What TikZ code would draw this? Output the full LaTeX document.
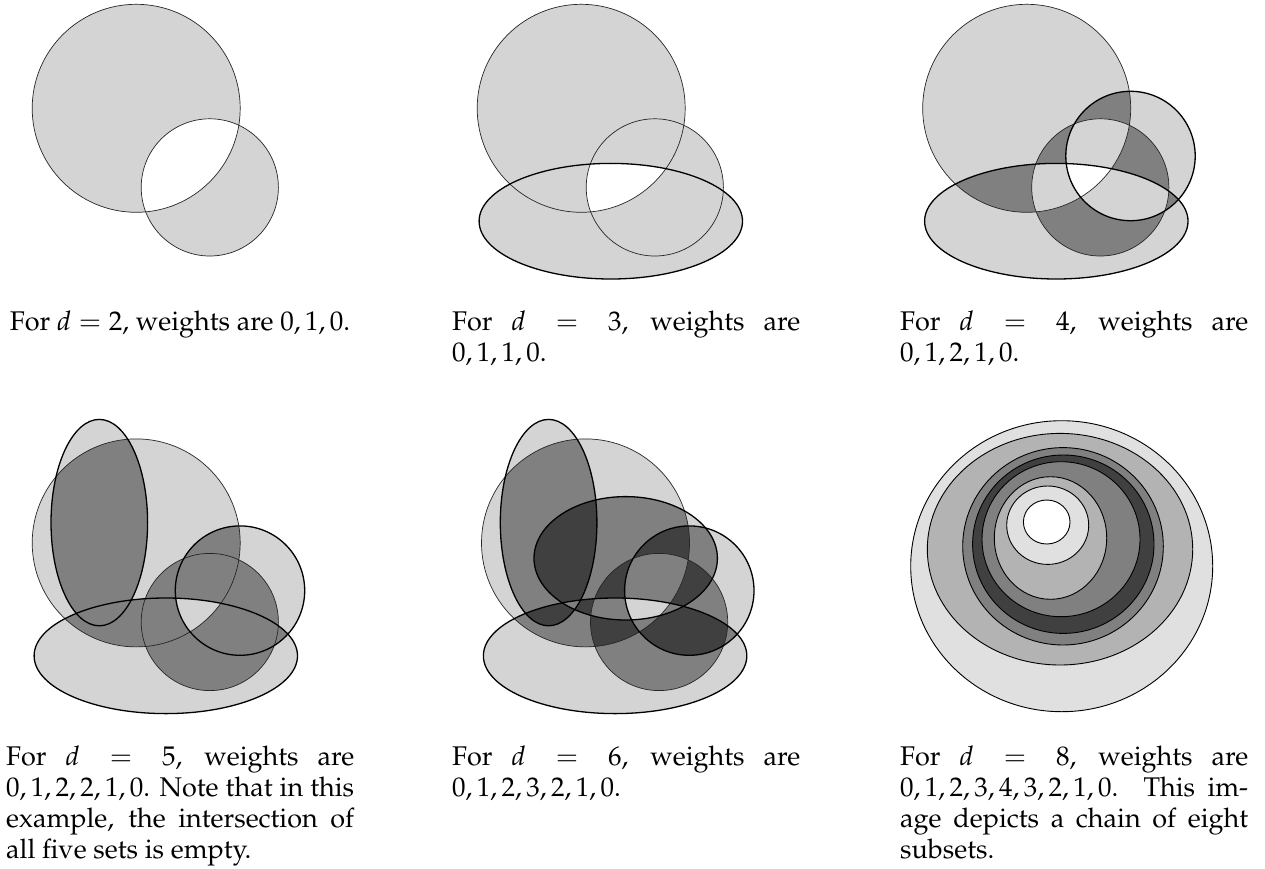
\documentclass[tikz,border=0pt]{standalone}
\usepackage[T1]{fontenc}
\usepackage{mathpazo}
\colorlet{w0}{white}
\definecolor{w1}{HTML}{D4D4D4}
\definecolor{w2}{HTML}{808080}
\definecolor{w3}{HTML}{404040}
\colorlet{v0}{white}
\definecolor{v1}{HTML}{E0E0E0}
\definecolor{v2}{HTML}{B3B3B3}
\definecolor{v3}{HTML}{808080}
\definecolor{v4}{HTML}{404040}
% shapes in panel-local pixel coordinates
\def\shA{(136.2,108.3) circle [radius=104]}
\def\shB{(209.8,187.4) circle [radius=68.6]}
\def\shC{(165.8,221.2) ellipse [x radius=131.7, y radius=57.8]}
\def\shD{(240,156) circle [radius=64.7]}
\def\shE{(99.3,88) ellipse [x radius=48.3, y radius=103.2]}
\def\shF{(176.4,123.7) ellipse [x radius=91.7, y radius=61.7]}
% #1 shape list, #2 largest mask, #3 count/weight list
\newcommand\vennfill[3]{%
  \foreach \k/\w in {#3} {%
    \foreach \m in {1,...,#2} {%
      \pgfmathtruncatemacro\pc{mod(\m,2)+mod(floor(\m/2),2)+mod(floor(\m/4),2)+mod(floor(\m/8),2)+mod(floor(\m/16),2)+mod(floor(\m/32),2)}%
      \ifnum\pc=\k\relax
        \begin{scope}
          \foreach \s [count=\i from 0] in {#1} {%
            \pgfmathtruncatemacro\bit{mod(floor(\m/pow(2,\i)),2)}%
            \ifnum\bit=1\relax
              \expandafter\let\expandafter\cursh\csname sh\s\endcsname
              \clip \cursh;
            \fi
          }%
          \fill[fill=w\w] (-30,-30) rectangle (340,340);
        \end{scope}
      \fi
    }%
  }%
}
\tikzset{
  thinline/.style={line width=0.7pt, draw=black!85},
  thickline/.style={line width=1.3pt, draw=black},
  ringline/.style={line width=0.9pt, draw=black},
  captext/.style={inner sep=0pt, font=\fontsize{27}{31}\selectfont},
  capj/.style={captext, anchor=base west, text width=348pt, align=justify},
}
\begin{document}
\begin{tikzpicture}[x=1pt,y=-1pt]
\path[use as bounding box, fill=white] (0,0) rectangle (1265,869);

% panel 1: d = 2
\begin{scope}[shift={(0,0)}]
  \vennfill{A,B}{3}{1/1,2/0}
  \draw[thinline] \shA;
  \draw[thinline] \shB;
\end{scope}

% panel 2: d = 3
\begin{scope}[shift={(445,0)}]
  \vennfill{A,B,C}{7}{1/1,2/1,3/0}
  \draw[thinline] \shA;
  \draw[thinline] \shB;
  \draw[thickline] \shC;
\end{scope}

% panel 3: d = 4
\begin{scope}[shift={(890.5,0)}]
  \vennfill{A,B,C,D}{15}{1/1,2/2,3/1,4/0}
  \draw[thinline] \shA;
  \draw[thinline] \shB;
  \draw[thickline] \shC;
  \draw[thickline] \shD;
\end{scope}

% panel 4: d = 5
\begin{scope}[shift={(0,434.6)}]
  \vennfill{A,B,C,D,E}{31}{1/1,2/2,3/2,4/1,5/0}
  \draw[thinline] \shA;
  \draw[thinline] \shB;
  \draw[thickline] \shC;
  \draw[thickline] \shD;
  \draw[thickline] \shE;
\end{scope}

% panel 5: d = 6
\begin{scope}[shift={(449.3,434.6)}]
  \vennfill{A,B,C,D,E,F}{63}{1/1,2/2,3/3,4/2,5/1,6/0}
  \draw[thinline] \shA;
  \draw[thinline] \shB;
  \draw[thickline] \shC;
  \draw[thickline] \shD;
  \draw[thickline] \shE;
  \draw[thickline] \shF;
\end{scope}

% panel 6: d = 8, a chain
\foreach \cx/\cy/\rx/\ry/\col in {
  1061.7/566.2/151/145.5/v1,
  1060/549.2/132.7/115.8/v2,
  1063/546.3/100.3/98.7/v3,
  1063.3/544.2/90.7/89.2/v4,
  1061/539.2/79/77.5/v3,
  1050.5/538/56.2/61.3/v2,
  1047.7/525.2/41/39.2/v1,
  1046.7/522/23.3/22/v0}
  \filldraw[ringline, fill=\col] (\cx,\cy) ellipse [x radius=\rx, y radius=\ry];

% captions
\node[captext, anchor=base] (cap1) at (180,330) {For $d=2$, weights are $0,1,0$.};
\node[capj] (cap2) at (452,330) {For $d=3$, weights are $0,1,1,0$.};
\node[capj] (cap3) at (900,330) {For $d=4$, weights are $0,1,2,1,0$.};
\node[capj] (cap4) at (6,765) {For $d=5$, weights are $0,1,2,2,1,0$. Note that in this example, the intersection of all five sets is empty.};
\node[capj] (cap5) at (452,765) {For $d=6$, weights are $0,1,2,3,2,1,0$.};
\node[capj] (cap6) at (900,765) {For $d=8$, weights are $0,1,2,3,4,3,2,1,0$. This image depicts a chain of eight subsets.};
\end{tikzpicture}
\end{document}
